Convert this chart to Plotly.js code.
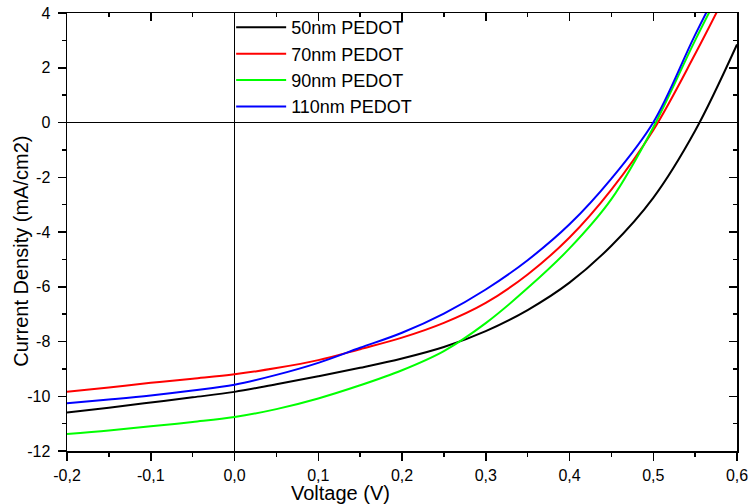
<!DOCTYPE html>
<html>
<head>
<meta charset="utf-8">
<script src="https://cdn.plot.ly/plotly-3.0.1.min.js"></script>
<style>html,body{margin:0;padding:0;background:#fff;}#chart{width:750px;height:504px;}</style>
</head>
<body>
<div id="chart"></div>
<script>
var voltage = [-0.2, -0.15, -0.1, -0.05, 0, 0.05, 0.1, 0.15, 0.2, 0.25, 0.3, 0.35, 0.4, 0.45, 0.5, 0.55, 0.6];
var j50  = [-10.59, -10.42, -10.23, -10.04, -9.84, -9.56, -9.27, -8.96, -8.62, -8.20, -7.62, -6.85, -5.85, -4.50, -2.75, -0.30, 2.85];
var j70  = [-9.84, -9.68, -9.51, -9.36, -9.20, -8.97, -8.68, -8.28, -7.86, -7.32, -6.59, -5.55, -4.20, -2.45, -0.28, 2.50, 5.5];
var j90  = [-11.38, -11.25, -11.10, -10.94, -10.76, -10.47, -10.08, -9.60, -9.05, -8.35, -7.33, -6.05, -4.60, -2.80, -0.18, 3.00, 6.0];
var j110 = [-10.26, -10.12, -9.97, -9.79, -9.58, -9.22, -8.78, -8.23, -7.68, -6.98, -6.10, -5.03, -3.72, -2.05, 0.00, 3.20, 6.2];

var seriesNames = ['50nm PEDOT', '70nm PEDOT', '90nm PEDOT', '110nm PEDOT'];
var seriesColors = ['#000000', '#ff0000', '#00ff00', '#0000ff'];
var seriesData = [j50, j70, j90, j110];

var xTickVals = [-0.2, -0.1, 0.0, 0.1, 0.2, 0.3, 0.4, 0.5, 0.6];
var xTickText = ['-0,2', '-0,1', '0,0', '0,1', '0,2', '0,3', '0,4', '0,5', '0,6'];
var yTickVals = [-12, -10, -8, -6, -4, -2, 0, 2, 4];
var yTickText = ['-12', '-10', '-8', '-6', '-4', '-2', '0', '2', '4'];

var FONT = 'Arial, "Liberation Sans", sans-serif';

var traces = seriesData.map(function (d, i) {
  return {
    x: voltage, y: d, type: 'scatter', mode: 'lines', name: seriesNames[i],
    line: {color: seriesColors[i], width: 2, shape: 'spline', smoothing: 1.0}
  };
});
traces.push({x: [], y: [], xaxis: 'x2', yaxis: 'y2', showlegend: false, hoverinfo: 'skip', type: 'scatter', mode: 'lines'});

var common = {
  showgrid: false, showline: true, linecolor: '#000', linewidth: 1.5,
  tickcolor: '#000', tickwidth: 1.5, ticklen: 8
};

var layout = {
  width: 750, height: 504,
  margin: {l: 67, r: 13, t: 13, b: 53, autoexpand: false},
  paper_bgcolor: '#fff', plot_bgcolor: '#fff',
  font: {family: FONT, color: '#000', size: 16},
  showlegend: true,
  legend: {x: 0.245, y: 1.009, xanchor: 'left', yanchor: 'top', bgcolor: 'rgba(0,0,0,0)',
           itemwidth: 50, font: {family: FONT, size: 18, color: '#000'}, tracegroupgap: 0},
  xaxis: Object.assign({}, common, {
    range: [-0.2, 0.6], ticks: 'outside', mirror: true,
    tickmode: 'array', tickvals: xTickVals, ticktext: xTickText, ticklabelstandoff: 1,
    zeroline: true, zerolinecolor: '#000', zerolinewidth: 1.5,
    minor: {dtick: 0.05, tick0: 0, ticks: 'outside', ticklen: 4, tickcolor: '#000', tickwidth: 1.5, showgrid: false},
    tickfont: {family: FONT, size: 16, color: '#000'}
  }),
  yaxis: Object.assign({}, common, {
    range: [-12, 4], ticks: 'outside', mirror: true,
    tickmode: 'array', tickvals: yTickVals, ticktext: yTickText, ticklabelstandoff: 4,
    zeroline: true, zerolinecolor: '#000', zerolinewidth: 1.5,
    minor: {dtick: 1, tick0: 0, ticks: 'outside', ticklen: 4, tickcolor: '#000', tickwidth: 1.5, showgrid: false},
    tickfont: {family: FONT, size: 16, color: '#000'}
  }),
  xaxis2: Object.assign({}, common, {
    overlaying: 'x', side: 'top', range: [-0.2, 0.6], ticks: 'inside', showticklabels: false,
    tickmode: 'array', tickvals: xTickVals, zeroline: false, showline: false,
    minor: {dtick: 0.05, tick0: 0, ticks: 'inside', ticklen: 4, tickcolor: '#000', tickwidth: 1.5, showgrid: false}
  }),
  yaxis2: Object.assign({}, common, {
    overlaying: 'y', side: 'right', range: [-12, 4], ticks: 'inside', showticklabels: false,
    tickmode: 'array', tickvals: yTickVals, zeroline: false, showline: false,
    minor: {dtick: 1, tick0: 0, ticks: 'inside', ticklen: 4, tickcolor: '#000', tickwidth: 1.5, showgrid: false}
  }),
  annotations: [
    {text: 'Voltage (V)', xref: 'paper', yref: 'paper', x: 0.408, y: -0.097, xanchor: 'center', yanchor: 'middle',
     showarrow: false, font: {family: FONT, size: 20, color: '#000'}},
    {text: 'Current Density (mA/cm2)', xref: 'paper', yref: 'paper', x: -0.068, y: 0.456, xanchor: 'center', yanchor: 'middle',
     textangle: -90, showarrow: false, font: {family: FONT, size: 20, color: '#000'}}
  ]
};

Plotly.newPlot('chart', traces, layout, {staticPlot: true, displayModeBar: false});
</script>
</body>
</html>
